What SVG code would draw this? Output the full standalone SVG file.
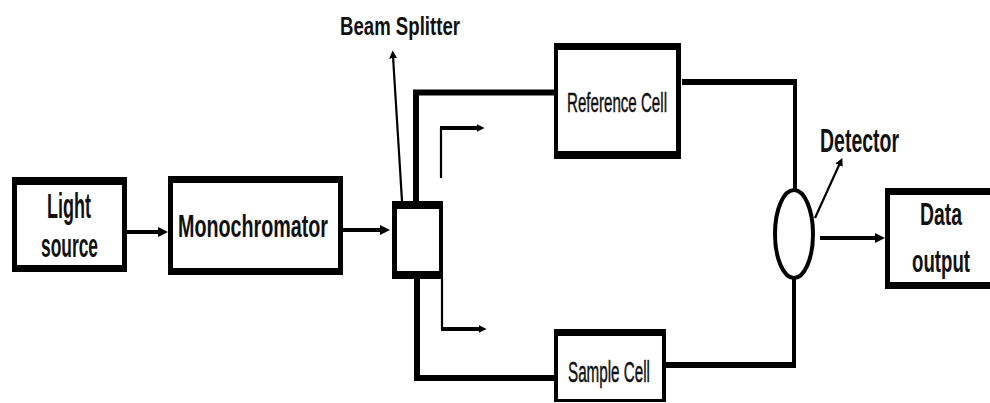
<svg xmlns="http://www.w3.org/2000/svg" width="990" height="403" viewBox="0 0 990 403">
  <style>
    .bx { fill: #000; fill-rule: evenodd; }
    .t { font-family: "Liberation Sans", Arial, sans-serif; fill: #111; }
    .b { font-weight: bold; }
    .r { stroke: #111; stroke-width: 0.5; }
    .c { fill: none; stroke: #000; stroke-linecap: butt; stroke-linejoin: miter; }
    .thick { stroke-width: 6; }
    .mid { stroke-width: 4; }
    .thin { stroke-width: 2.2; }
  </style>
  <defs>
    <marker id="arr" viewBox="0 0 10 10" refX="4" refY="5" markerWidth="10" markerHeight="10" markerUnits="userSpaceOnUse" orient="auto">
      <path d="M0,0 L10,5 L0,10 z" fill="#000"/>
    </marker>
    <marker id="arrs" viewBox="0 0 10 10" refX="3" refY="5" markerWidth="8" markerHeight="9" markerUnits="userSpaceOnUse" orient="auto">
      <path d="M0,0 L10,5 L0,10 z" fill="#000"/>
    </marker>
  </defs>
  <rect width="990" height="403" fill="#fff"/>

  <g id="connectors">
    <line class="c mid" x1="127" y1="232" x2="162" y2="232" marker-end="url(#arr)"/>
    <line class="c mid" x1="343" y1="230" x2="384" y2="230" marker-end="url(#arr)"/>
    <polyline class="c thick" points="416,201 416,92.5 554,92.5"/>
    <polyline class="c thick" points="417,279 417,378 554,378"/>
    <line class="c thin" x1="441" y1="178" x2="441" y2="128"/>
    <line class="c mid" x1="440" y1="128" x2="479" y2="128" marker-end="url(#arrs)"/>
    <line class="c thin" x1="442" y1="279" x2="442" y2="329"/>
    <line class="c mid" x1="441" y1="329" x2="481" y2="329" marker-end="url(#arrs)"/>
    <polyline class="c thick" points="682,82 795,82"/>
    <line class="c mid" x1="795" y1="79" x2="795" y2="190"/>
    <polyline class="c thick" points="665,365 796,365"/>
    <line class="c mid" x1="794" y1="368" x2="794" y2="278"/>
    <line class="c mid" x1="820" y1="238" x2="879" y2="238" marker-end="url(#arr)"/>
    <line class="c thin" x1="402" y1="201" x2="393" y2="56" marker-end="url(#arrs)"/>
    <line class="c thin" x1="815" y1="218" x2="840" y2="163" marker-end="url(#arrs)"/>
  </g>

  <g id="light-source">
    <path class="bx" d="M12,177 H127 V272 H12 Z M17,185 V265 H122 V185 Z"/>
    <text class="t b" x="47" y="218" font-size="35" textLength="44" lengthAdjust="spacingAndGlyphs">Light</text>
    <text class="t b" x="41" y="257" font-size="34" textLength="57" lengthAdjust="spacingAndGlyphs">source</text>
  </g>

  <g id="monochromator">
    <path class="bx" d="M168,176 H343 V275 H168 Z M173,183 V268 H338 V183 Z"/>
    <text class="t b" x="178" y="237" font-size="32" textLength="150" lengthAdjust="spacingAndGlyphs">Monochromator</text>
  </g>

  <g id="beam-splitter">
    <path class="bx" d="M392,201 H443 V279 H392 Z M397,209 V271 H439 V209 Z"/>
    <text class="t b" x="340" y="35" font-size="25" textLength="120" lengthAdjust="spacingAndGlyphs">Beam Splitter</text>
  </g>

  <g id="reference-cell">
    <path class="bx" d="M554,43 H681 V159 H554 Z M558,50 V151 H676 V50 Z"/>
    <text class="t r" x="567" y="112" font-size="28" textLength="100" lengthAdjust="spacingAndGlyphs">Reference Cell</text>
  </g>

  <g id="sample-cell">
    <path class="bx" d="M554,329 H666 V402 H554 Z M558,336 V399 H662 V336 Z"/>
    <text class="t r" x="568" y="382" font-size="30" textLength="82" lengthAdjust="spacingAndGlyphs">Sample Cell</text>
  </g>

  <g id="detector">
    <ellipse cx="794" cy="234" rx="19" ry="44" fill="#fff" stroke="#000" stroke-width="4"/>
    <text class="t b" x="820" y="152" font-size="34" textLength="79" lengthAdjust="spacingAndGlyphs">Detector</text>
  </g>

  <g id="data-output">
    <path class="bx" d="M885,188 H990 V289 H885 Z M890,195 V282 H990 V195 Z"/>
    <text class="t b" x="920" y="225" font-size="32" textLength="42" lengthAdjust="spacingAndGlyphs">Data</text>
    <text class="t b" transform="translate(912,272) scale(0.583,1)" x="0" y="0" font-size="32">output</text>
  </g>
</svg>
